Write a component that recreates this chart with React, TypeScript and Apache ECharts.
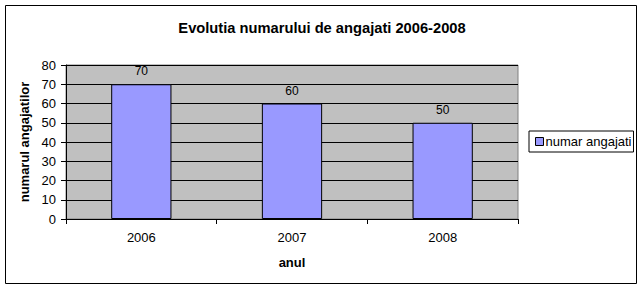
import React, { useEffect, useRef } from "react";
import * as echarts from "echarts";

const categories = ["2006", "2007", "2008"];
const values = [70, 60, 50];
const seriesName = "numar angajati";
const titleText = "Evolutia numarului de angajati 2006-2008";
const yAxisName = "numarul angajatilor";
const xAxisName = "anul";

export default function App() {
  const ref = useRef<HTMLDivElement>(null);
  useEffect(() => {
    if (!ref.current) return;
    const chart = echarts.init(ref.current, null, { renderer: "svg" });
    const font = "Arial, 'Liberation Sans', sans-serif";
    chart.setOption({
      animation: false,
      backgroundColor: "#ffffff",
      textStyle: { fontFamily: font },
      title: {
        text: titleText,
        left: "center",
        top: 15,
        textStyle: { fontFamily: font, fontSize: 14.7, fontWeight: "bold", color: "#000" },
      },
      graphic: [
        {
          type: "rect",
          shape: { x: 5.5, y: 5.5, width: 631, height: 278 },
          style: { fill: "none", stroke: "#000", lineWidth: 1 },
          z: 100,
        },
      ],
      legend: {
        left: 529,
        top: 131,
        orient: "vertical",
        data: [{ name: seriesName, icon: "rect" }],
        itemWidth: 8,
        itemHeight: 8,
        padding: [4, 2, 4, 6],
        borderColor: "#000",
        borderWidth: 1,
        borderRadius: 0,
        backgroundColor: "#fff",
        textStyle: { fontFamily: font, fontSize: 13, color: "#000", padding: [0, 0, 0, -3] },
        itemStyle: { borderColor: "#000", borderWidth: 1 },
      },
      grid: {
        left: 66,
        top: 65,
        right: 126,
        bottom: 71,
        show: true,
        backgroundColor: "#C0C0C0",
        borderColor: "#808080",
        borderWidth: 1,
      },
      xAxis: {
        type: "category",
        data: categories,
        name: xAxisName,
        nameLocation: "middle",
        nameGap: 37,
        nameTextStyle: { fontFamily: font, fontSize: 13, fontWeight: "bold", color: "#000" },
        axisLine: { lineStyle: { color: "#000", width: 1 } },
        axisTick: { show: true, alignWithLabel: false, length: 5, lineStyle: { color: "#000" } },
        axisLabel: { fontFamily: font, fontSize: 13, color: "#000", margin: 12 },
        splitLine: { show: false },
      },
      yAxis: {
        type: "value",
        min: 0,
        max: 80,
        interval: 10,
        name: yAxisName,
        nameLocation: "middle",
        nameGap: 35,
        nameRotate: 90,
        nameTextStyle: { fontFamily: font, fontSize: 13, fontWeight: "bold", color: "#000" },
        axisLine: { show: true, lineStyle: { color: "#000", width: 1 } },
        axisTick: { show: true, length: 5, lineStyle: { color: "#000" } },
        axisLabel: { fontFamily: font, fontSize: 13, color: "#000", margin: 10 },
        splitLine: { show: true, lineStyle: { color: "#000", width: 1 } },
      },
      series: [
        {
          name: seriesName,
          type: "bar",
          data: values,
          barWidth: "40%",
          itemStyle: { color: "#9999FF", borderColor: "#000", borderWidth: 1 },
          label: {
            show: true,
            position: "top",
            distance: 7,
            fontFamily: font,
            fontSize: 12,
            color: "#000",
          },
        },
      ],
    });
    return () => chart.dispose();
  }, []);
  return (
    <div
      ref={ref}
      style={{ position: "fixed", left: 0, top: 0, width: 644, height: 290 }}
    />
  );
}
